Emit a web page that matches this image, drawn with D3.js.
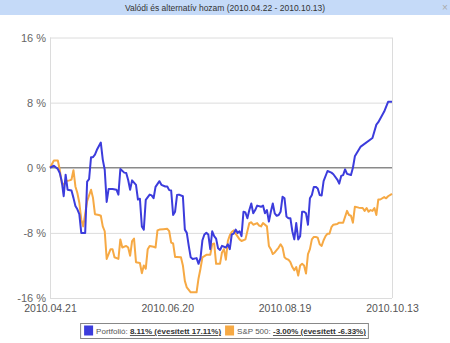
<!DOCTYPE html>
<html>
<head>
<meta charset="utf-8">
<script src="https://cdn.jsdelivr.net/npm/d3@7"></script>
<style>
  html, body { margin: 0; padding: 0; background: #fff; }
  svg { display: block; font-family: "Liberation Sans", Arial, sans-serif; }
</style>
</head>
<body>
<svg id="chart" width="450" height="343"></svg>
<script>
const titleText = "Valódi és alternatív hozam (2010.04.22 - 2010.10.13)";
const xTickLabels = ["2010.04.21", "2010.06.20", "2010.08.19", "2010.10.13"];
const yTicks = [16, 8, 0, -8, -16];

const portfolioDates = ["2010-04-21","2010-04-23","2010-04-25","2010-04-26","2010-04-27","2010-04-28","2010-04-29","2010-04-30","2010-05-02","2010-05-03","2010-05-04","2010-05-05","2010-05-06","2010-05-07","2010-05-09","2010-05-10","2010-05-11","2010-05-12","2010-05-13","2010-05-14","2010-05-15","2010-05-17","2010-05-18","2010-05-19","2010-05-20","2010-05-21","2010-05-23","2010-05-25","2010-05-26","2010-05-27","2010-05-29","2010-05-30","2010-05-31","2010-06-01","2010-06-02","2010-06-04","2010-06-05","2010-06-06","2010-06-07","2010-06-08","2010-06-09","2010-06-11","2010-06-12","2010-06-13","2010-06-14","2010-06-16","2010-06-17","2010-06-19","2010-06-20","2010-06-21","2010-06-22","2010-06-23","2010-06-24","2010-06-25","2010-06-26","2010-06-28","2010-06-29","2010-06-30","2010-07-01","2010-07-02","2010-07-03","2010-07-05","2010-07-06","2010-07-07","2010-07-08","2010-07-09","2010-07-10","2010-07-11","2010-07-12","2010-07-13","2010-07-14","2010-07-15","2010-07-16","2010-07-17","2010-07-18","2010-07-20","2010-07-21","2010-07-22","2010-07-23","2010-07-24","2010-07-25","2010-07-26","2010-07-27","2010-07-28","2010-07-29","2010-07-30","2010-07-31","2010-08-01","2010-08-02","2010-08-03","2010-08-04","2010-08-05","2010-08-07","2010-08-08","2010-08-09","2010-08-10","2010-08-11","2010-08-12","2010-08-13","2010-08-14","2010-08-15","2010-08-16","2010-08-17","2010-08-18","2010-08-19","2010-08-20","2010-08-21","2010-08-22","2010-08-23","2010-08-24","2010-08-25","2010-08-26","2010-08-27","2010-08-28","2010-08-29","2010-08-30","2010-08-31","2010-09-01","2010-09-02","2010-09-03","2010-09-04","2010-09-05","2010-09-06","2010-09-07","2010-09-08","2010-09-10","2010-09-12","2010-09-13","2010-09-15","2010-09-16","2010-09-17","2010-09-18","2010-09-19","2010-09-20","2010-09-22","2010-09-23","2010-09-24","2010-09-27","2010-10-03","2010-10-05","2010-10-06","2010-10-09","2010-10-11","2010-10-13"];
const portfolioValues = [0,0.25,-0.15,-0.65,-1.65,-3.5,-0.85,-2.7,-2.8,-3.7,-4.7,-5.1,-5.7,-8.0,-8.0,-1.7,-1.4,1.3,1.3,1.6,2.2,3.1,1.0,-0.25,-4.2,-2.6,-2.6,-2.7,-3.3,-0.15,-0.6,-0.65,-1.5,-2.7,-1.55,-2.1,-3.9,-3.8,-7.2,-7.6,-3.95,-3.3,-3.4,-3.75,-2.35,-1.65,-2.1,-2.3,-2.3,-2.75,-2.8,-5.8,-5.4,-3.35,-3.3,-3.5,-7.6,-8.0,-9.6,-11.0,-11.2,-11.1,-11.8,-11.1,-8.9,-8.2,-8.0,-8.2,-10.0,-7.8,-8.4,-8.7,-9.9,-10.1,-9.6,-9.8,-9.4,-10.0,-8.2,-8.1,-7.6,-8.0,-7.8,-8.4,-5.4,-5.5,-6.2,-5.2,-4.4,-5.6,-5.2,-4.65,-4.8,-4.65,-5.6,-5.2,-6.6,-5.4,-4.4,-5.6,-5.9,-5.8,-5.4,-3.55,-3.75,-6.0,-6.2,-6.2,-7.8,-8.8,-6.8,-8.8,-8.4,-5.4,-5.4,-5.6,-7.0,-3.75,-3.35,-2.35,-2.35,-2.55,-3.35,-3.4,-1.65,-0.4,-0.6,-0.8,-1.45,-1.95,-1.0,-0.9,-0.2,-0.75,-0.9,0,1.4,2.6,3.65,5.3,5.6,6.9,8.1,8.11];

const spDates = ["2010-04-21","2010-04-23","2010-04-25","2010-04-26","2010-04-27","2010-04-28","2010-04-29","2010-05-01","2010-05-02","2010-05-03","2010-05-04","2010-05-05","2010-05-06","2010-05-07","2010-05-08","2010-05-10","2010-05-12","2010-05-13","2010-05-14","2010-05-16","2010-05-17","2010-05-18","2010-05-19","2010-05-20","2010-05-22","2010-05-23","2010-05-24","2010-05-26","2010-05-27","2010-05-28","2010-05-30","2010-05-31","2010-06-01","2010-06-02","2010-06-03","2010-06-04","2010-06-06","2010-06-07","2010-06-08","2010-06-09","2010-06-10","2010-06-11","2010-06-13","2010-06-14","2010-06-15","2010-06-16","2010-06-18","2010-06-20","2010-06-21","2010-06-22","2010-06-23","2010-06-24","2010-06-25","2010-06-27","2010-06-28","2010-06-29","2010-06-30","2010-07-02","2010-07-03","2010-07-05","2010-07-06","2010-07-07","2010-07-08","2010-07-10","2010-07-12","2010-07-13","2010-07-14","2010-07-15","2010-07-16","2010-07-17","2010-07-18","2010-07-19","2010-07-20","2010-07-21","2010-07-22","2010-07-23","2010-07-24","2010-07-25","2010-07-27","2010-07-28","2010-07-30","2010-08-01","2010-08-02","2010-08-03","2010-08-05","2010-08-06","2010-08-07","2010-08-08","2010-08-10","2010-08-11","2010-08-12","2010-08-13","2010-08-14","2010-08-16","2010-08-17","2010-08-18","2010-08-19","2010-08-20","2010-08-21","2010-08-22","2010-08-23","2010-08-24","2010-08-25","2010-08-26","2010-08-27","2010-08-28","2010-08-29","2010-08-30","2010-08-31","2010-09-01","2010-09-02","2010-09-03","2010-09-04","2010-09-05","2010-09-06","2010-09-07","2010-09-08","2010-09-09","2010-09-10","2010-09-11","2010-09-12","2010-09-13","2010-09-15","2010-09-16","2010-09-18","2010-09-20","2010-09-21","2010-09-22","2010-09-23","2010-09-24","2010-09-26","2010-09-28","2010-09-29","2010-09-30","2010-10-01","2010-10-02","2010-10-03","2010-10-04","2010-10-05","2010-10-06","2010-10-07","2010-10-09","2010-10-10","2010-10-11","2010-10-13"];
const spValues = [0,0.9,0.9,-0.25,-1.9,-2.1,-1.65,-1.55,-1.45,-0.3,-2.3,-3.1,-4.3,-6.35,-7.2,-4.1,-2.7,-3.7,-5.7,-5.8,-5.9,-7.2,-7.8,-11.2,-10.0,-10.0,-11.0,-11.2,-8.8,-9.8,-9.6,-9.8,-10.8,-9.0,-8.7,-11.6,-11.7,-12.95,-12.0,-12.4,-10.0,-9.6,-9.7,-9.8,-7.7,-7.6,-7.55,-7.5,-7.8,-9.2,-9.3,-10.95,-10.95,-11.0,-12.0,-13.9,-14.7,-15.3,-15.3,-15.3,-13.6,-12.4,-11.0,-10.7,-10.7,-9.4,-9.3,-11.8,-11.8,-11.8,-10.4,-10.0,-11.3,-9.0,-8.3,-7.9,-7.7,-8.1,-8.8,-9.0,-8.8,-6.8,-6.7,-7.0,-6.8,-7.1,-7.2,-6.8,-7.2,-9.6,-10.0,-10.6,-10.4,-9.8,-9.4,-9.8,-11.0,-11.2,-11.3,-11.6,-12.2,-12.6,-12.2,-13.25,-12.0,-11.8,-12.0,-13.0,-10.6,-10.0,-8.8,-8.5,-8.5,-8.6,-9.4,-9.6,-8.9,-8.4,-8.1,-8.1,-7.3,-7.0,-6.9,-6.75,-6.75,-5.3,-5.8,-5.9,-6.75,-4.8,-4.9,-4.95,-5.3,-4.95,-5.4,-5.2,-5.3,-4.95,-5.8,-3.9,-3.9,-3.6,-3.75,-3.5,-3.2,-3.0];

const seriesNames = ["Portfolió: ", "S&P 500: "];
const seriesSummary = ["8.11% (évesített 17.11%)", "-3.00% (évesített -6.33%)"];
const seriesColors = ["#3c3cdc", "#f6a944"];

const parse = d3.timeParse("%Y-%m-%d");
const fmtTick = d3.timeFormat("%Y.%m.%d");
const svg = d3.select("#chart");

// title bar
svg.append("rect").attr("x", 0).attr("y", 0).attr("width", 450).attr("height", 15).attr("fill", "#c5daf8");
svg.append("text").attr("x", 225).attr("y", 11).attr("text-anchor", "middle")
  .attr("font-size", "8.5px").attr("fill", "#333").text(titleText);
svg.append("text").attr("x", 445).attr("y", 11).attr("text-anchor", "middle")
  .attr("font-size", "10px").attr("fill", "#aaa").text("×");

const plotLeft = 50, plotRight = 392, plotTop = 37.5, plotBottom = 298;
const x = d3.scaleTime()
  .domain([parse("2010-04-21"), parse("2010-10-13")])
  .range([plotLeft, plotRight]);
const y = d3.scaleLinear().domain([-16, 16]).range([plotBottom, plotTop]);

// grid
const grid = svg.append("g");
grid.selectAll("line.h").data(yTicks.filter(v => v !== 0)).join("line")
  .attr("x1", plotLeft).attr("x2", plotRight)
  .attr("y1", d => y(d) + 0.5).attr("y2", d => y(d) + 0.5)
  .attr("stroke", "#dcdcdc").attr("stroke-width", 1);
grid.append("line").attr("x1", plotLeft + 0.5).attr("x2", plotLeft + 0.5).attr("y1", plotTop).attr("y2", plotBottom)
  .attr("stroke", "#dcdcdc");
grid.append("line").attr("x1", plotRight + 0.5).attr("x2", plotRight + 0.5).attr("y1", plotTop).attr("y2", plotBottom)
  .attr("stroke", "#dcdcdc");

// y axis labels
const yAxis = d3.axisLeft(y).tickValues(yTicks).tickSize(0).tickPadding(4)
  .tickFormat(d => d + " %");
svg.append("g").attr("transform", `translate(${plotLeft},0)`).call(yAxis)
  .call(g => g.select(".domain").remove())
  .call(g => g.selectAll("text").attr("font-size", "11px").attr("fill", "#666")
    .attr("font-family", "Liberation Sans, Arial, sans-serif"));

// x axis labels
const xTickDates = xTickLabels.map(s => d3.timeParse("%Y.%m.%d")(s));
const xAxis = d3.axisBottom(x).tickValues(xTickDates).tickSize(0).tickPadding(7)
  .tickFormat(fmtTick);
svg.append("g").attr("transform", `translate(0,${plotBottom})`).call(xAxis)
  .call(g => g.select(".domain").remove())
  .call(g => g.selectAll("text").attr("font-size", "10.5px").attr("fill", "#555")
    .attr("font-family", "Liberation Sans, Arial, sans-serif"));

// zero line
svg.append("line").attr("x1", plotLeft).attr("x2", plotRight)
  .attr("y1", y(0)).attr("y2", y(0)).attr("stroke", "#8a8a8a").attr("stroke-width", 1.6);

// lines
const line = d3.line().x(d => x(d.date)).y(d => y(d.value));
const spData = spDates.map((d, i) => ({ date: parse(d), value: spValues[i] }));
const pfData = portfolioDates.map((d, i) => ({ date: parse(d), value: portfolioValues[i] }));
svg.append("path").datum(spData).attr("d", line).attr("fill", "none")
  .attr("stroke", seriesColors[1]).attr("stroke-width", 2).attr("stroke-linejoin", "round");
svg.append("path").datum(pfData).attr("d", line).attr("fill", "none")
  .attr("stroke", seriesColors[0]).attr("stroke-width", 2).attr("stroke-linejoin", "round");

// legend
const lg = svg.append("g");
const lgBox = lg.append("rect").attr("y", 323.5).attr("height", 15)
  .attr("fill", "#fff").attr("stroke", "#888").attr("stroke-width", 1);
let cx = 0;
const items = lg.append("g");
seriesNames.forEach((name, i) => {
  items.append("rect").attr("x", cx).attr("y", 325.5).attr("width", 9).attr("height", 10)
    .attr("fill", seriesColors[i]);
  cx += 12;
  const t = items.append("text").attr("x", cx).attr("y", 334).attr("font-size", "8px");
  t.append("tspan").attr("fill", "#555").text(name);
  t.append("tspan").attr("fill", "#333").attr("font-weight", "bold")
    .attr("text-decoration", "underline").text(seriesSummary[i]);
  cx += t.node().getComputedTextLength() + 4;
});
const totalW = cx - 4;
const startX = 225 - totalW / 2;
items.attr("transform", `translate(${startX},0)`);
lgBox.attr("x", startX - 3.5).attr("width", totalW + 6);
</script>
</body>
</html>
